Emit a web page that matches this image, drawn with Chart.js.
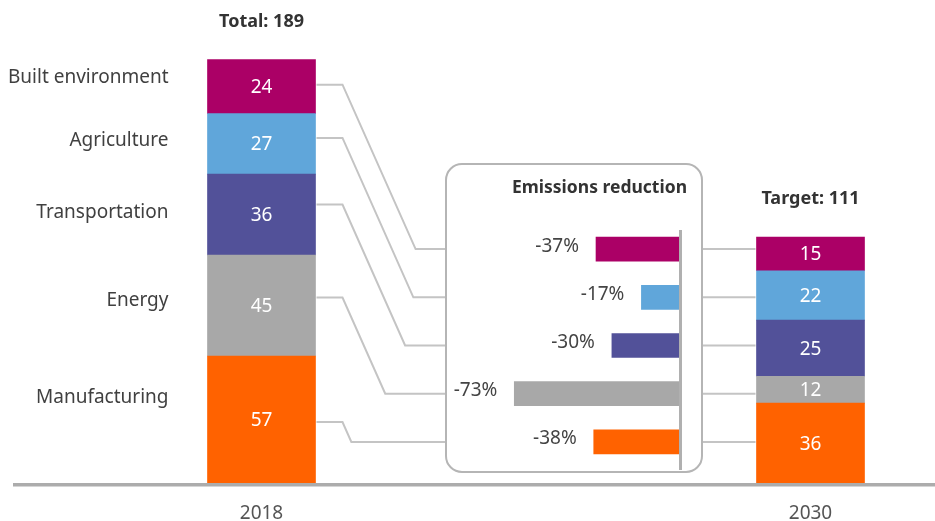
<!DOCTYPE html>
<html>
<head>
<meta charset="utf-8">
<script src="https://cdn.jsdelivr.net/npm/chart.js@4.4.0/dist/chart.umd.min.js"></script>
<style>
  html, body { margin: 0; padding: 0; background: #fff; }
  .wrap { position: relative; width: 935px; height: 521px; overflow: hidden; }
  #mainChart { position: absolute; left: 0; top: 0; }
  .reduction { position: absolute; left: 445px; top: 163px; width: 258px; height: 310px; }
</style>
</head>
<body>
<div class="wrap">
  <canvas id="mainChart" width="935" height="521"></canvas>
  <div class="reduction" id="reductionBox"><canvas id="reductionChart" width="258" height="310"></canvas></div>
</div>
<script>
// Stacked bars, bottom to top
const years = ['2018', '2030'];
const sectors = ['Manufacturing', 'Energy', 'Transportation', 'Agriculture', 'Built environment'];
const manufacturing = [57, 36];
const energy = [45, 12];
const transportation = [36, 25];
const agriculture = [27, 22];
const builtEnvironment = [24, 15];
const totalLabels = ['Total: 189', 'Target: 111'];

// Emissions reduction, top to bottom
const reductionSectors = ['Built environment', 'Agriculture', 'Transportation', 'Energy', 'Manufacturing'];
const reduction = [-37, -17, -30, -73, -38];

const sectorValues = [manufacturing, energy, transportation, agriculture, builtEnvironment];
const colors = {
    'Manufacturing': '#ff6200',
    'Energy': '#a8a8a8',
    'Transportation': '#525199',
    'Agriculture': '#60a6da',
    'Built environment': '#ab0066'
};
const FONT = "'Noto Sans', sans-serif";

// box, title, zero line and % labels of the middle chart
const reductionDecor = {
    id: 'reductionDecor',
    beforeDraw(chart) {
        const ctx = chart.ctx;
        ctx.save();
        ctx.strokeStyle = '#b5b5b5';
        ctx.lineWidth = 2;
        ctx.beginPath();
        ctx.roundRect(1, 1, chart.width - 2, chart.height - 2, 16);
        ctx.stroke();
        ctx.fillStyle = '#333';
        ctx.font = 'bold 17.5px ' + FONT;
        ctx.textAlign = 'right';
        ctx.textBaseline = 'middle';
        ctx.fillText('Emissions reduction', chart.width - 16, 25);
        ctx.restore();
    },
    afterDatasetsDraw(chart) {
        const ctx = chart.ctx;
        const area = chart.chartArea;
        const zero = chart.scales.x.getPixelForValue(0);
        ctx.save();
        ctx.fillStyle = '#b0b0b0';
        ctx.fillRect(zero - 1, area.top + 5, 3, area.bottom - area.top - 1);
        ctx.fillStyle = '#444';
        ctx.font = '19px ' + FONT;
        ctx.textAlign = 'right';
        ctx.textBaseline = 'middle';
        chart.getDatasetMeta(0).data.forEach((bar, i) => {
            ctx.fillText(reduction[i] + '%', bar.x - 17, bar.y - 3);
        });
        ctx.restore();
    }
};

const reductionChart = new Chart(document.getElementById('reductionChart'), {
    type: 'bar',
    data: {
        labels: reductionSectors,
        datasets: [{
            data: reduction,
            backgroundColor: reductionSectors.map(s => colors[s]),
            barThickness: 24,
            borderWidth: 0
        }]
    },
    options: {
        indexAxis: 'y',
        responsive: false,
        animation: false,
        layout: { padding: { left: 8, right: 23, top: 62, bottom: 7 } },
        plugins: { legend: { display: false }, tooltip: { enabled: false } },
        scales: {
            x: { display: false, min: -100, max: 0 },
            y: { display: false }
        }
    },
    plugins: [reductionDecor]
});

// labels, totals, baseline and connector lines of the main chart
const labelNudge = [-22, -5, -2, -3, -9];
const lineNudge = [2, -8, -10, -6, -2];

const mainDecor = {
    id: 'mainDecor',
    afterDatasetsDraw(chart) {
        const ctx = chart.ctx;
        const area = chart.chartArea;
        const box = document.getElementById('reductionBox');
        const boxLeft = box.offsetLeft, boxTop = box.offsetTop, boxRight = boxLeft + box.offsetWidth;
        const midBars = reductionChart.getDatasetMeta(0).data;
        const xScale = chart.scales.x;
        ctx.save();

        // baseline + year labels
        ctx.fillStyle = '#acacac';
        ctx.fillRect(13, area.bottom - 1, chart.width - 13, 3.5);
        ctx.font = '19px ' + FONT;
        ctx.textAlign = 'center';
        ctx.textBaseline = 'middle';
        ctx.fillStyle = '#555';
        years.forEach((y, i) => ctx.fillText(y, xScale.getPixelForValue(i), area.bottom + 30));

        // values in segments
        ctx.fillStyle = '#fff';
        sectors.forEach((s, d) => {
            chart.getDatasetMeta(d).data.forEach((el, i) => {
                ctx.fillText(sectorValues[d][i], el.x, (el.y + el.base) / 2 + 1);
            });
        });

        // totals
        const topMeta = chart.getDatasetMeta(sectors.length - 1);
        ctx.fillStyle = '#333';
        ctx.font = 'bold 18px ' + FONT;
        topMeta.data.forEach((el, i) => ctx.fillText(totalLabels[i], el.x, el.y - 38));

        // sector names left of the 2018 bar
        ctx.font = '19px ' + FONT;
        ctx.textAlign = 'right';
        ctx.fillStyle = '#404040';
        sectors.forEach((s, d) => {
            const el = chart.getDatasetMeta(d).data[0];
            ctx.fillText(s, el.x - el.width / 2 - 39, (el.y + el.base) / 2 + labelNudge[d]);
        });

        // connectors
        ctx.strokeStyle = '#c4c4c4';
        ctx.lineWidth = 2;
        sectors.forEach((s, d) => {
            const left = chart.getDatasetMeta(d).data[0];
            const right = chart.getDatasetMeta(d).data[1];
            const yM = boxTop + midBars[reductionSectors.indexOf(s)].y;
            const x0 = left.x + left.width / 2 + 1;
            const y0 = (left.y + left.base) / 2 + lineNudge[d];
            const xBend = x0 + 26;
            ctx.beginPath();
            ctx.moveTo(x0, y0);
            ctx.lineTo(xBend, y0);
            ctx.lineTo(xBend + (yM - y0) / 2.25, yM);
            ctx.lineTo(boxLeft + 1, yM);
            ctx.stroke();
            ctx.beginPath();
            ctx.moveTo(boxRight - 1, yM);
            ctx.lineTo(right.x - right.width / 2 - 1, yM);
            ctx.stroke();
        });
        ctx.restore();
    }
};

const mainChart = new Chart(document.getElementById('mainChart'), {
    type: 'bar',
    data: {
        labels: years,
        datasets: sectors.map((s, d) => ({
            label: s,
            data: sectorValues[d],
            backgroundColor: colors[s],
            barThickness: 108,
            borderWidth: 0,
            clip: false
        }))
    },
    options: {
        responsive: false,
        animation: false,
        layout: { padding: { left: 261.5, right: 124.5, top: 35, bottom: 37 } },
        plugins: { legend: { display: false }, tooltip: { enabled: false } },
        scales: {
            x: { stacked: true, offset: false, display: false },
            y: { stacked: true, display: false, min: 0, max: 200 }
        }
    },
    plugins: [mainDecor]
});
</script>
</body>
</html>
